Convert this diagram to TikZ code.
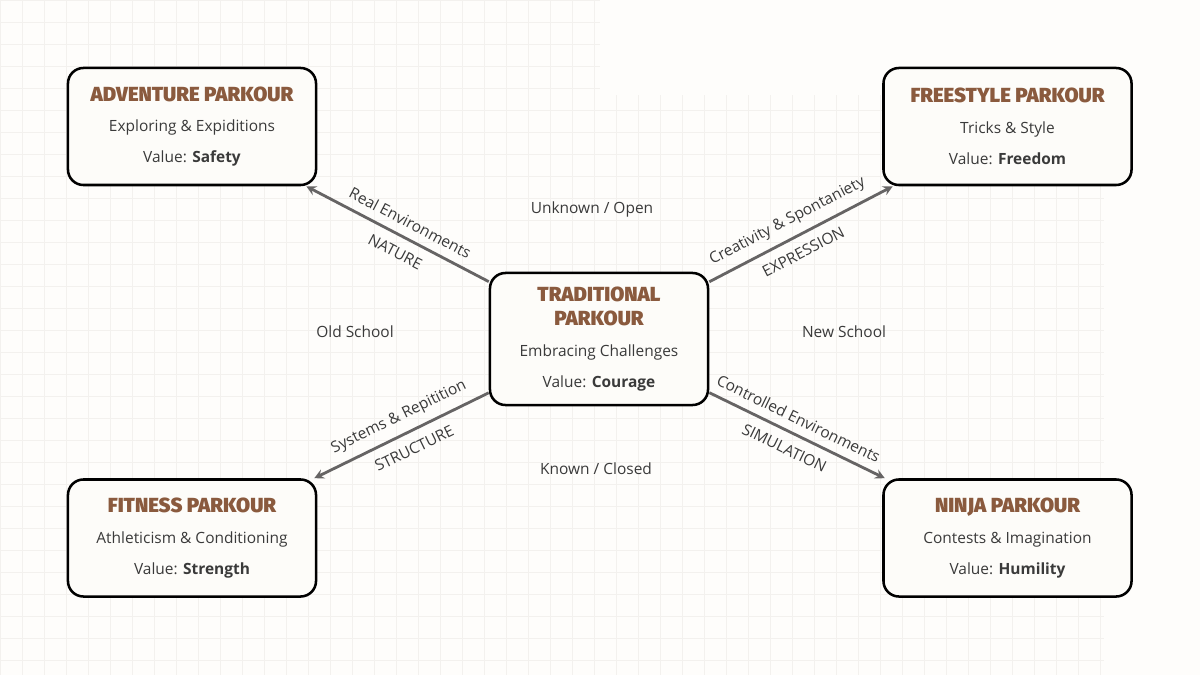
\documentclass[tikz,border=0pt]{standalone}
\usepackage{fontspec}
\setmainfont{Open Sans}
\newfontfamily\titlefont{Fira Sans}[UprightFont={* Black}]
\definecolor{parkbrown}{HTML}{8A5A3E}
\definecolor{inktext}{HTML}{3A3A3A}
\definecolor{arrowgray}{HTML}{666464}
\definecolor{paper}{HTML}{FEFDFB}
\definecolor{gridgray}{HTML}{F3F1EE}
\definecolor{boxfill}{HTML}{FDFCF9}
\newcommand{\parkhead}[1]{{\titlefont\fontsize{14.5}{17}\selectfont\color{parkbrown}#1}}

\begin{document}
\begin{tikzpicture}[x=0.025cm, y=-0.025cm, >=stealth,
  box/.style={draw=black, line width=1.8pt, rounded corners=11pt, fill=boxfill, align=center,
    text=inktext, font=\fontsize{11}{13}\selectfont, minimum width=6.2cm, minimum height=2.925cm, inner sep=0pt},
  centre/.style={box, minimum width=5.45cm, minimum height=3.3cm},
  link/.style={->, draw=arrowgray, line width=2pt},
  relation/.style={font=\fontsize{11}{12}\selectfont, text=inktext, sloped, inner sep=1pt},
  region/.style={font=\fontsize{11}{12}\selectfont, text=inktext}]
% paper and grid
\fill[paper] (0,0) rectangle (1200,675);
\useasboundingbox (0,0) rectangle (1200,675);
\draw[gridgray, line width=0.4pt, step=0.55cm] (0,0) grid (600,95);
\draw[gridgray, line width=0.4pt, step=0.55cm] (0,95) grid (1104,675);

\node[centre] (trad) at (599,339) {\parkhead{TRADITIONAL}\\[4pt]\parkhead{PARKOUR}\\[9pt] Embracing Challenges\\[9pt] Value: \textbf{Courage}};
\node[box] (adv) at (192,126.5) {\parkhead{ADVENTURE PARKOUR}\\[9pt] Exploring \& Expiditions\\[9pt] Value: \textbf{Safety}};
\node[box] (free) at (1007.5,126.5) {\parkhead{FREESTYLE PARKOUR}\\[9pt] Tricks \& Style\\[9pt] Value: \textbf{Freedom}};
\node[box] (fit) at (192,538) {\parkhead{FITNESS PARKOUR}\\[9pt] Athleticism \& Conditioning\\[9pt] Value: \textbf{Strength}};
\node[box] (ninja) at (1007.5,538) {\parkhead{NINJA PARKOUR}\\[9pt] Contests \& Imagination\\[9pt] Value: \textbf{Humility}};

\draw[link] (trad) -- node[relation, above=5pt, pos=0.47] {Real Environments} node[relation, below=6pt, pos=0.47] {NATURE} (adv);
\draw[link] (trad) -- node[relation, above=5pt, pos=0.47] {Creativity \& Spontaniety} node[relation, below=6pt, pos=0.47] {EXPRESSION} (free);
\draw[link] (trad) -- node[relation, above=5pt, pos=0.47] {Systems \& Repitition} node[relation, below=6pt, pos=0.47] {STRUCTURE} (fit);
\draw[link] (trad) -- node[relation, above=5pt, pos=0.47] {Controlled Environments} node[relation, below=6pt, pos=0.47] {SIMULATION} (ninja);

\node[region] (open) at (592,209) {Unknown / Open};
\node[region] (old) at (355,332) {Old School};
\node[region] (new) at (844,332) {New School};
\node[region] (closed) at (596,469) {Known / Closed};
\end{tikzpicture}
\end{document}
